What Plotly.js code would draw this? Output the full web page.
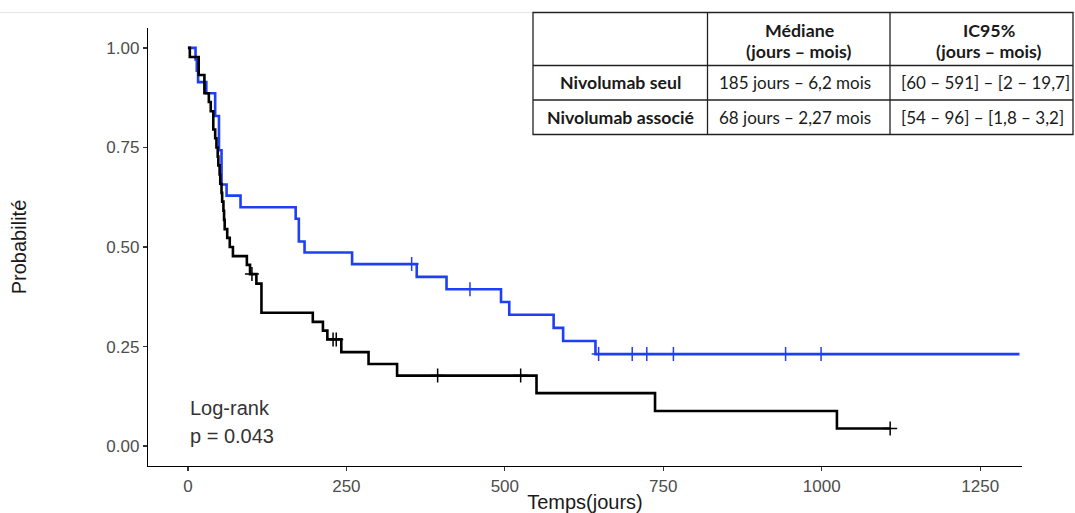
<!DOCTYPE html>
<html><head><meta charset="utf-8">
<script src="https://cdn.plot.ly/plotly-3.0.1.min.js"></script>
<style>html,body{margin:0;padding:0;background:#fff;} #chart{width:1075px;height:513px;}</style>
</head><body><div id="chart"></div>
<script>
// ---- data ----
const seulTime = [0, 12, 14, 16, 29, 43, 49, 53, 61, 83, 170, 175, 184, 259, 361, 408, 494, 507, 577, 592, 643, 1312];
const seulSurv = [1, 0.971, 0.943, 0.914, 0.886, 0.829, 0.743, 0.657, 0.629, 0.600, 0.571, 0.514, 0.486, 0.457, 0.425, 0.394, 0.362, 0.330, 0.297, 0.264, 0.231, 0.231];
const seulCensor = [353, 445, 648, 701, 724, 766, 943, 999];

const assocTime = [0, 3, 17, 26, 33, 36, 40, 43, 45, 47, 48, 50, 51, 53, 54, 56, 57, 58, 62, 66, 71, 93, 98, 108, 116, 197, 213, 220, 242, 285, 330, 550, 737, 1024, 1108];
const assocSurv = [1, 0.977, 0.932, 0.886, 0.864, 0.841, 0.795, 0.773, 0.750, 0.727, 0.705, 0.682, 0.659, 0.636, 0.614, 0.591, 0.568, 0.545, 0.523, 0.500, 0.477, 0.455, 0.432, 0.408, 0.335, 0.312, 0.290, 0.268, 0.236, 0.206, 0.177, 0.133, 0.088, 0.044, 0.044];
const assocCensor = [101, 229, 234, 394, 525, 1108];

const xTicks = [0, 250, 500, 750, 1000, 1250];
const yTicks = [0, 0.25, 0.5, 0.75, 1];

const tableHeader = [["Médiane", "(jours – mois)"], ["IC95%", "(jours – mois)"]];
const tableRowLabels = ["Nivolumab seul", "Nivolumab associé"];
const tableMedians = ["185 jours – 6,2 mois", "68 jours – 2,27 mois"];
const tableCI = ["[60 – 591] – [2 – 19,7]", "[54 – 96] – [1,8 – 3,2]"];

const logrankText = ["Log-rank", "p = 0.043"];

// ---- helpers ----
function survAt(times, surv, t) {
  let s = surv[0];
  for (let i = 0; i < times.length; i++) { if (times[i] <= t) s = surv[i]; }
  return s;
}
const BLUE = '#1f3ff5', BLACK = '#000000';

const traces = [
  {x: seulTime, y: seulSurv, type: 'scatter', mode: 'lines', line: {shape: 'hv', color: BLUE, width: 2.6}, hoverinfo: 'skip'},
  {x: assocTime, y: assocSurv, type: 'scatter', mode: 'lines', line: {shape: 'hv', color: BLACK, width: 2.6}, hoverinfo: 'skip'},
  {x: seulCensor, y: seulCensor.map(t => survAt(seulTime, seulSurv, t)), type: 'scatter', mode: 'markers',
   marker: {symbol: 'cross-thin', size: 10, line: {color: BLUE, width: 1.5}}, hoverinfo: 'skip'},
  {x: assocCensor, y: assocCensor.map(t => survAt(assocTime, assocSurv, t)), type: 'scatter', mode: 'markers',
   marker: {symbol: 'cross-thin', size: 10, line: {color: BLACK, width: 1.5}}, hoverinfo: 'skip'}
];

// pixel -> paper conversion for table placement
const L = 148, R = 1022, T = 28, B = 466;
const px = p => (p - L) / (R - L);
const py = p => (B - p) / (B - T);

const shapes = [];
const annotations = [];
// faint top line
shapes.push({type: 'line', xref: 'paper', yref: 'paper', x0: px(0), x1: px(1075), y0: py(12.5), y1: py(12.5), line: {color: '#e6e6e6', width: 1}});
// table background + grid
const colX = [533, 707.5, 890, 1073];
const rowY = [12.5, 65.5, 100, 134.5];
const headerCenters = [799, 989];
shapes.push({type: 'rect', xref: 'paper', yref: 'paper', x0: px(colX[0]), x1: px(colX[3]), y0: py(rowY[0]), y1: py(rowY[3]), fillcolor: '#ffffff', line: {color: '#222', width: 1.3}, layer: 'above'});
for (let i = 1; i < colX.length - 1; i++) shapes.push({type: 'line', xref: 'paper', yref: 'paper', x0: px(colX[i]), x1: px(colX[i]), y0: py(rowY[0]), y1: py(rowY[3]), line: {color: '#222', width: 1.3}, layer: 'above'});
for (let j = 1; j < rowY.length - 1; j++) shapes.push({type: 'line', xref: 'paper', yref: 'paper', x0: px(colX[0]), x1: px(colX[3]), y0: py(rowY[j]), y1: py(rowY[j]), line: {color: '#222', width: 1.3}, layer: 'above'});

function ann(text, xp, yp, anchor, bold, size) {
  annotations.push({text: bold ? '<b>' + text + '</b>' : text, xref: 'paper', yref: 'paper', x: px(xp), y: py(yp),
    xanchor: anchor, yanchor: 'middle', showarrow: false,
    font: {family: 'Lato, Carlito, sans-serif', size: size, color: '#1a1a1a'}});
}
tableHeader.forEach((h, k) => {
  ann(h[0], headerCenters[k], 29.5, 'center', true, 17.8);
  ann(h[1], headerCenters[k], 51, 'center', true, 17.8);
});
tableRowLabels.forEach((lab, r) => {
  const cy = (rowY[r + 1] + rowY[r + 2]) / 2;
  ann(lab, (colX[0] + colX[1]) / 2, cy, 'center', true, 17.7);
  ann(tableMedians[r], colX[1] + 9, cy, 'left', false, 17);
  ann(tableCI[r], colX[2] + 9, cy, 'left', false, 17);
});
// log-rank text
const lrFont = {family: 'Liberation Sans, Arial, sans-serif', size: 20, color: '#333333'};
annotations.push({text: logrankText[0], xref: 'paper', yref: 'paper', x: px(188), y: py(408), xanchor: 'left', yanchor: 'middle', showarrow: false, font: lrFont});
annotations.push({text: logrankText[1], xref: 'paper', yref: 'paper', x: px(188), y: py(436), xanchor: 'left', yanchor: 'middle', showarrow: false, font: lrFont});

const layout = {
  width: 1075, height: 513,
  margin: {l: L, r: 1075 - R, t: T, b: 513 - B, pad: 0},
  paper_bgcolor: '#ffffff', plot_bgcolor: '#ffffff',
  showlegend: false,
  font: {family: 'Liberation Sans, Arial, sans-serif'},
  xaxis: {
    range: [-63, 1316], tickvals: xTicks, ticktext: xTicks.map(String),
    showline: true, linecolor: '#000', linewidth: 1.2, mirror: false,
    ticks: 'outside', ticklen: 4, tickwidth: 1.2, tickcolor: '#333',
    showgrid: false, zeroline: false,
    tickfont: {size: 17, color: '#4d4d4d'},
    title: {text: 'Temps(jours)', font: {size: 20, color: '#1a1a1a'}, standoff: 6}
  },
  yaxis: {
    range: [-0.05, 1.05], tickvals: yTicks, ticktext: yTicks.map(v => v.toFixed(2)),
    showline: true, linecolor: '#000', linewidth: 1.2, mirror: false,
    ticks: 'outside', ticklen: 4, tickwidth: 1.2, tickcolor: '#333',
    showgrid: false, zeroline: false,
    tickfont: {size: 17, color: '#4d4d4d'},
    title: {text: 'Probabilité', font: {size: 20, color: '#1a1a1a'}, standoff: 74}
  },
  shapes: shapes,
  annotations: annotations
};

Plotly.newPlot('chart', traces, layout, {displayModeBar: false, staticPlot: true});
</script>
</body></html>
